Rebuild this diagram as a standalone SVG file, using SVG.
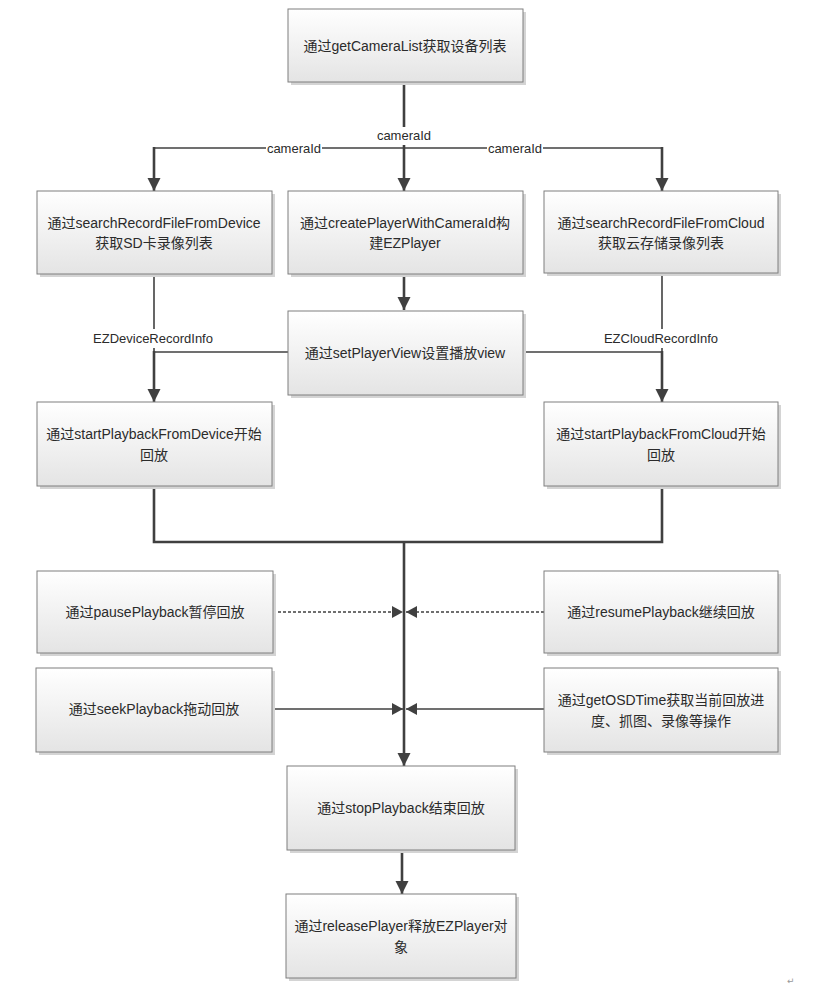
<svg xmlns="http://www.w3.org/2000/svg" width="817" height="993" viewBox="0 0 817 993">
<defs>
<linearGradient id="g" x1="0" y1="0" x2="0" y2="1">
<stop offset="0" stop-color="#ffffff"/>
<stop offset="1" stop-color="#e4e4e4"/>
</linearGradient>
<marker id="a" markerUnits="userSpaceOnUse" markerWidth="14" markerHeight="14" refX="13" refY="7" orient="auto">
<path d="M0,0.5 L13,7 L0,13.5 z" fill="#404040"/>
</marker>
<marker id="s" markerUnits="userSpaceOnUse" markerWidth="12" markerHeight="12" refX="11" refY="6" orient="auto">
<path d="M0,0 L11,6 L0,12 z" fill="#404040"/>
</marker>
</defs>
<style>
.box{fill:url(#g);stroke:#7f7f7f;stroke-width:1}
.sh{fill:#d4d4d4}
.t{font-family:"Liberation Sans","Noto Sans CJK SC",sans-serif;font-size:14px;fill:#2b2b2b;text-anchor:middle;dominant-baseline:central}
.l{font-family:"Liberation Sans","Noto Sans CJK SC",sans-serif;font-size:13px;fill:#2b2b2b;text-anchor:middle;dominant-baseline:central}
.c{fill:none;stroke:#404040}
.th{stroke-width:2.6}
.tn{stroke-width:1.6}
.d{stroke-dasharray:3 2;stroke-width:1.5}
</style>
<rect width="817" height="993" fill="#fff"/>
<g id="connectors">
<line class="c th" x1="404" y1="82" x2="404" y2="191" marker-end="url(#a)"/>
<line class="c tn" x1="154" y1="148" x2="662" y2="148"/>
<line class="c th" x1="154" y1="147" x2="154" y2="191" marker-end="url(#a)"/>
<line class="c th" x1="662" y1="147" x2="662" y2="191" marker-end="url(#a)"/>
<line class="c th" x1="404" y1="274" x2="404" y2="310" marker-end="url(#a)"/>
<line class="c tn" x1="154" y1="274" x2="154" y2="352"/>
<line class="c tn" x1="662" y1="273" x2="662" y2="352"/>
<line class="c tn" x1="154" y1="352" x2="288" y2="352"/>
<line class="c tn" x1="523" y1="352" x2="662" y2="352"/>
<line class="c th" x1="154" y1="351" x2="154" y2="402" marker-end="url(#a)"/>
<line class="c th" x1="662" y1="351" x2="662" y2="402" marker-end="url(#a)"/>
<path class="c th" d="M154,486 V542 H662 V486"/>
<line class="c th" x1="404" y1="542" x2="404" y2="766" marker-end="url(#a)"/>
<line class="c d" x1="273" y1="612" x2="403" y2="612" marker-end="url(#s)"/>
<line class="c d" x1="544" y1="612" x2="406" y2="612" marker-end="url(#s)"/>
<line class="c tn" x1="272" y1="709" x2="403" y2="709" marker-end="url(#s)"/>
<line class="c tn" x1="544" y1="709" x2="406" y2="709" marker-end="url(#s)"/>
<line class="c th" x1="402" y1="850" x2="402" y2="894" marker-end="url(#a)"/>
<rect x="375" y="127" width="58" height="18" fill="#fff"/>
<text class="l" x="404" y="135">cameraId</text>
<rect x="266" y="141" width="56" height="14" fill="#fff"/>
<text class="l" x="294" y="148">cameraId</text>
<rect x="487" y="141" width="56" height="14" fill="#fff"/>
<text class="l" x="515" y="148">cameraId</text>
<rect x="92" y="329" width="122" height="19" fill="#fff"/>
<text class="l" x="153" y="338">EZDeviceRecordInfo</text>
<rect x="604" y="329" width="116" height="19" fill="#fff"/>
<text class="l" x="661" y="338">EZCloudRecordInfo</text>
</g>
<g id="getCameraList">
<rect class="sh" x="291" y="12" width="235" height="73"/>
<rect class="box" x="288" y="9" width="235" height="73"/>
<text class="t" x="405" y="46">通过getCameraList获取设备列表</text>
</g>
<g id="searchDevice">
<rect class="sh" x="40" y="194" width="235" height="83"/>
<rect class="box" x="37" y="191" width="235" height="83"/>
<text class="t" x="154" y="223">通过searchRecordFileFromDevice</text>
<text class="t" x="154" y="243">获取SD卡录像列表</text>
</g>
<g id="createPlayer">
<rect class="sh" x="291" y="194" width="235" height="83"/>
<rect class="box" x="288" y="191" width="235" height="83"/>
<text class="t" x="405" y="223">通过createPlayerWithCameraId构</text>
<text class="t" x="405" y="243">建EZPlayer</text>
</g>
<g id="searchCloud">
<rect class="sh" x="547" y="194" width="234" height="82"/>
<rect class="box" x="544" y="191" width="234" height="82"/>
<text class="t" x="661" y="223">通过searchRecordFileFromCloud</text>
<text class="t" x="661" y="243">获取云存储录像列表</text>
</g>
<g id="setPlayerView">
<rect class="sh" x="291" y="314" width="235" height="84"/>
<rect class="box" x="288" y="311" width="235" height="84"/>
<text class="t" x="405" y="353">通过setPlayerView设置播放view</text>
</g>
<g id="startDevice">
<rect class="sh" x="40" y="405" width="235" height="84"/>
<rect class="box" x="37" y="402" width="235" height="84"/>
<text class="t" x="154" y="434">通过startPlaybackFromDevice开始</text>
<text class="t" x="154" y="455">回放</text>
</g>
<g id="startCloud">
<rect class="sh" x="547" y="405" width="234" height="84"/>
<rect class="box" x="544" y="402" width="234" height="84"/>
<text class="t" x="661" y="434">通过startPlaybackFromCloud开始</text>
<text class="t" x="661" y="455">回放</text>
</g>
<g id="pause">
<rect class="sh" x="40" y="574" width="236" height="82"/>
<rect class="box" x="37" y="571" width="236" height="82"/>
<text class="t" x="155" y="612">通过pausePlayback暂停回放</text>
</g>
<g id="resume">
<rect class="sh" x="547" y="574" width="234" height="82"/>
<rect class="box" x="544" y="571" width="234" height="82"/>
<text class="t" x="661" y="612">通过resumePlayback继续回放</text>
</g>
<g id="seek">
<rect class="sh" x="39" y="671" width="236" height="84"/>
<rect class="box" x="36" y="668" width="236" height="84"/>
<text class="t" x="154" y="709">通过seekPlayback拖动回放</text>
</g>
<g id="getOSDTime">
<rect class="sh" x="547" y="671" width="234" height="84"/>
<rect class="box" x="544" y="668" width="234" height="84"/>
<text class="t" x="661" y="700">通过getOSDTime获取当前回放进</text>
<text class="t" x="661" y="721">度、抓图、录像等操作</text>
</g>
<g id="stopPlayback">
<rect class="sh" x="290" y="769" width="228" height="84"/>
<rect class="box" x="287" y="766" width="228" height="84"/>
<text class="t" x="401" y="808">通过stopPlayback结束回放</text>
</g>
<g id="releasePlayer">
<rect class="sh" x="289" y="897" width="230" height="84"/>
<rect class="box" x="286" y="894" width="230" height="84"/>
<text class="t" x="401" y="926">通过releasePlayer释放EZPlayer对</text>
<text class="t" x="401" y="947">象</text>
</g>
<text x="787" y="984" font-family="DejaVu Sans, sans-serif" font-size="9" fill="#999">↵</text>
</svg>
